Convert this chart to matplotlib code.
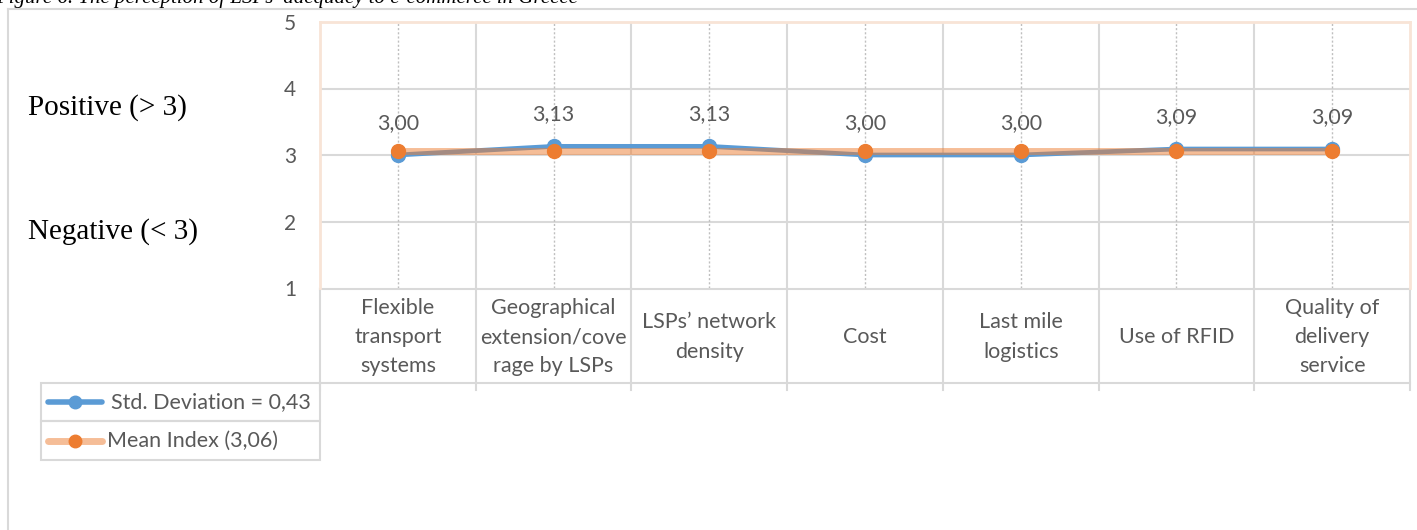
import matplotlib.pyplot as plt
from matplotlib.lines import Line2D
from matplotlib.patches import Rectangle
from matplotlib.transforms import blended_transform_factory

categories = ['Flexible\ntransport\nsystems', 'Geographical\nextension/cove\nrage by LSPs',
              'LSPs\u2019 network\ndensity', 'Cost', 'Last mile\nlogistics', 'Use of RFID',
              'Quality of\ndelivery\nservice']
std_dev = [3.00, 3.13, 3.13, 3.00, 3.00, 3.09, 3.09]
mean_index = [3.06, 3.06, 3.06, 3.06, 3.06, 3.06, 3.06]
yticks = [1, 2, 3, 4, 5]
std_label = 'Std. Deviation = 0,43'
mean_label = 'Mean Index (3,06)'

W, H = 1417, 530
blue = '#5B9BD5'
orange = '#ED7D31'
grid = '#D9D9D9'
peach = '#F8E4D6'
txt = '#595959'
font = 'Lato'

fig = plt.figure(figsize=(W / 100, H / 100), dpi=100)

# overlay in pixel coordinates for the frame, table and legend
ov = fig.add_axes([0, 0, 1, 1])
ov.set_xlim(0, W)
ov.set_ylim(H, 0)
ov.axis('off')

# plot area
x0, x1, ytop, ybot = 320, 1410, 22, 288
ax = fig.add_axes([x0 / W, 1 - ybot / H, (x1 - x0) / W, (ybot - ytop) / H])
ax.set_xlim(-0.5, len(categories) - 0.5)
ax.set_ylim(1, 5)
ax.set_xticks([])
ax.set_yticks(yticks)
ax.set_yticklabels([str(t) for t in yticks], fontsize=15, color=txt, family=font)
ax.tick_params(axis='y', length=0, pad=17)
for s in ['left', 'top', 'right']:
    ax.spines[s].set_color(peach)
    ax.spines[s].set_linewidth(2)
ax.spines['bottom'].set_visible(False)
ax.set_zorder(2)
ax.patch.set_alpha(0)

for t in yticks[1:-1]:
    ax.axhline(t, color=grid, lw=1.5, zorder=0)
for i in range(len(categories)):
    ax.axvline(i, color='#BFBFBF', lw=1, ls=(0, (1.5, 1.5)), zorder=0)
    if i < len(categories) - 1:
        ax.axvline(i + 0.5, color=grid, lw=1.5, zorder=0)

xs = range(len(categories))
ax.plot(xs, std_dev, color=blue, lw=3.4, marker='o', ms=10, zorder=3)
ax.plot(xs, mean_index, color=orange, lw=5, alpha=0.5, zorder=4)
ax.plot(xs, mean_index, ls='none', marker='o', ms=10, color=orange, zorder=5)

for i, v in enumerate(std_dev):
    ax.annotate(f'{v:.2f}'.replace('.', ','), (i, v), xytext=(0, 23),
                textcoords='offset points', ha='center', va='center',
                fontsize=15.5, color=txt, family=font)

# outer chart frame
ov.plot([8, 8], [9, H], color=grid, lw=1.5)
ov.plot([8, W], [9, 9], color=grid, lw=1.5)

# caption cut off at the top edge
ov.text(-4, 3, 'Figure 6. The perception of LSPs\u2019 adequacy to e-commerce in Greece',
        fontsize=15, style='italic', family='Liberation Serif', color='black',
        ha='left', va='baseline')

# side annotations
ov.text(28, 108, 'Positive (> 3)', fontsize=21, family='Liberation Serif',
        color='black', ha='left', va='center')
ov.text(28, 232, 'Negative (< 3)', fontsize=21, family='Liberation Serif',
        color='black', ha='left', va='center')

# data table with category names
tr = blended_transform_factory(ax.transData, ov.transData)
row_top, row_bot = 289, 383
ov.plot([x0, x1], [row_top, row_top], color=grid, lw=1.5)
ov.plot([x0, x1], [row_bot, row_bot], color=grid, lw=1.5)
for i in range(len(categories) + 1):
    b = i - 0.5
    ov.add_line(Line2D([b, b], [row_top, 390], transform=tr, color=grid, lw=1.5))
for i, c in enumerate(categories):
    ov.text(i, (row_top + row_bot) / 2 + 1, c, transform=tr, ha='center', va='center',
            fontsize=15.5, color=txt, family=font, linespacing=1.58)

# legend rows
lx0, lx1 = 41, 320
rows = [(383, 421, blue, 1.0, std_label), (421, 460, orange, 0.5, mean_label)]
for k, (r0, r1, col, a, lab) in enumerate(rows):
    ov.add_patch(Rectangle((lx0, r0), lx1 - lx0, r1 - r0, fill=False,
                           edgecolor=grid, lw=1.5))
    yc = (r0 + r1) / 2
    ov.plot([48, 102], [yc, yc], color=col, lw=4 if k == 0 else 5, alpha=a,
            solid_capstyle='round')
    ov.plot([75], [yc], marker='o', ms=9, color=col if k == 0 else orange)
    ov.text(111 if k == 0 else 107, yc, lab, fontsize=15.5, color=txt, family=font,
            ha='left', va='center')

fig.savefig('out.png', dpi=100)
